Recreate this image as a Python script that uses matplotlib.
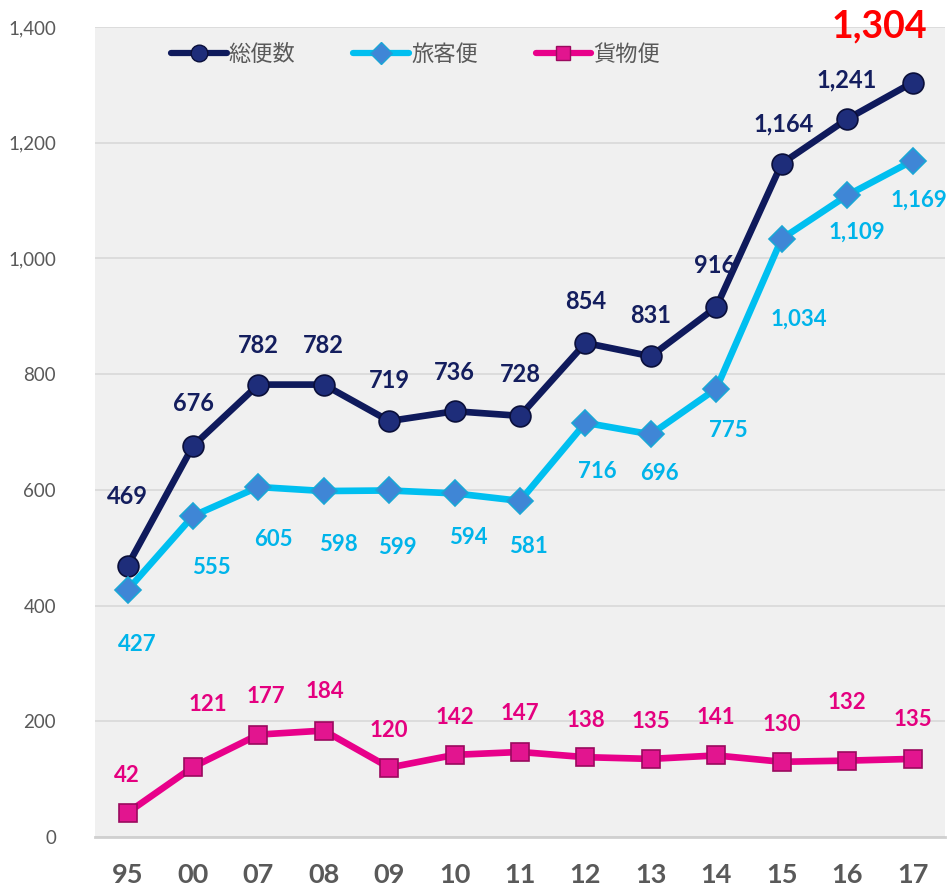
import matplotlib.pyplot as plt
from matplotlib.lines import Line2D

plt.rcParams['font.family'] = ['Lato', 'Noto Sans CJK JP', 'DejaVu Sans']

years = ['95', '00', '07', '08', '09', '10', '11', '12', '13', '14', '15', '16', '17']
total = [469, 676, 782, 782, 719, 736, 728, 854, 831, 916, 1164, 1241, 1304]
passenger = [427, 555, 605, 598, 599, 594, 581, 716, 696, 775, 1034, 1109, 1169]
cargo = [42, 121, 177, 184, 120, 142, 147, 138, 135, 141, 130, 132, 135]
names = ['総便数', '旅客便', '貨物便']

# label offsets in pixels (dx, dy up)
total_off = [(0, 69), (0, 42), (0, 39), (0, 39), (0, 41), (0, 39), (0, 41),
             (0, 41), (0, 41), (-2, 42), (2, 40), (0, 39), (-33, 56)]
pass_off = [(10, -55), (18, -52), (15, -52), (15, -53), (8, -57), (14, -44), (8, -46),
            (12, -49), (9, -39), (12, -42), (17, -80), (10, -37), (6, -39)]
cargo_off = [(-1, 37), (15, 63), (7, 38), (1, 39), (0, 37), (0, 37), (0, 38),
             (0, 37), (0, 37), (0, 38), (0, 37), (0, 58), (0, 39)]

c_total, c_pass, c_cargo = '#0f1a5c', '#00bff0', '#e8008a'

fig = plt.figure(figsize=(9.49, 8.91), dpi=100)
ax = fig.add_axes([0.100, 0.0606, 0.896, 0.909])
ax.set_facecolor('#f0f0f0')

x = list(range(len(years)))
styles = [
    (total, c_total, 'o', 15, '#1e2d7a', '#0a0f3a'),
    (passenger, c_pass, 'D', 13.5, '#3f86d6', '#1aa6d6'),
    (cargo, c_cargo, 's', 13, '#e2158f', '#9a0a5e'),
]
handles = []
for (vals, col, mk, ms, fc, ec), name in zip(styles, names):
    ax.plot(x, vals, color=col, lw=4.8, marker=mk, ms=ms, mfc=fc, mec=ec, mew=1.2,
            solid_capstyle='round', zorder=3)
    handles.append(Line2D([], [], color=col, lw=4.5, marker=mk, ms=ms * 0.8, mfc=fc,
                          mec=ec, mew=1.0, solid_capstyle='round', label=name))

px = 0.72
for i in range(len(years)):
    dx, dy = total_off[i]
    last = i == len(years) - 1
    ax.annotate(f'{total[i]:,}', (x[i], total[i]), xytext=(dx * px, dy * px),
                textcoords='offset points', ha='center', va='center',
                color='#ff0000' if last else '#141e5e',
                fontsize=27 if last else 17, fontweight='bold', zorder=5)
    dx, dy = pass_off[i]
    ax.annotate(f'{passenger[i]:,}', (x[i], passenger[i]), xytext=(dx * px, dy * px),
                textcoords='offset points', ha='center', va='center',
                color='#00b4ea', fontsize=16, fontweight='bold', zorder=5)
    dx, dy = cargo_off[i]
    ax.annotate(f'{cargo[i]:,}', (x[i], cargo[i]), xytext=(dx * px, dy * px),
                textcoords='offset points', ha='center', va='center',
                color='#e4007f', fontsize=16, fontweight='bold', zorder=5)

ax.set_xlim(-0.5, len(years) - 0.5)
ax.set_ylim(0, 1400)
ax.set_yticks(range(0, 1401, 200))
ax.set_yticklabels([f'{v:,}' for v in range(0, 1401, 200)])
ax.set_xticks(x)
ax.set_xticklabels(years)
ax.grid(axis='y', color='#d9d9d9', lw=1.2)
ax.set_axisbelow(True)
for s in ['top', 'right', 'left']:
    ax.spines[s].set_visible(False)
ax.spines['bottom'].set_color('#d0d0d0')
ax.spines['bottom'].set_linewidth(2)
ax.tick_params(axis='y', length=0, pad=28, labelsize=13.5, labelcolor='#595959')
ax.tick_params(axis='x', length=0, pad=19, labelsize=19.5, labelcolor='#595959')
for t in ax.get_xticklabels():
    t.set_fontweight('bold')

leg = ax.legend(handles=handles, loc='upper left', bbox_to_anchor=(0.066, 1.004),
                ncol=3, frameon=False, fontsize=16, handlelength=2.5,
                handletextpad=0.1, columnspacing=2.6)
for t in leg.get_texts():
    t.set_color('#595959')

fig.savefig('out.png', dpi=100)
